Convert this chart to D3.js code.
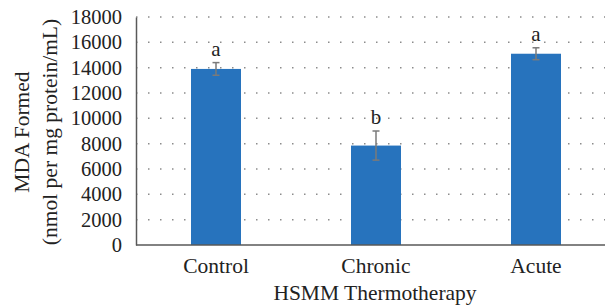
<!DOCTYPE html>
<html>
<head>
<meta charset="utf-8">
<script src="https://cdn.jsdelivr.net/npm/d3@7"></script>
<style>
	body { margin: 0; background: #fff; }
	text { font-family: "Liberation Serif", "DejaVu Serif", serif; fill: #222; }
</style>
</head>
<body>
<svg id="chart" width="605" height="306"></svg>
<script>
// data
var groups = ["Control", "Chronic", "Acute"];
var means = [13900, 7850, 15100];
var errors = [500, 1150, 470];
var letters = ["a", "b", "a"];
var yTicks = [0, 2000, 4000, 6000, 8000, 10000, 12000, 14000, 16000, 18000];

var svg = d3.select("#chart");

var x = d3.scaleBand()
	.domain(groups)
	.range([136, 616])
	.paddingInner(0.6875)
	.paddingOuter(0.34375);

var y = d3.scaleLinear()
	.domain([0, 18000])
	.range([245, 17]);

// dotted gridlines
svg.append("g")
	.selectAll("line")
	.data(yTicks.slice(1))
	.join("line")
	.attr("x1", 136)
	.attr("x2", 605)
	.attr("y1", d => y(d))
	.attr("y2", d => y(d))
	.attr("stroke", "#8c8c8c")
	.attr("stroke-width", 1.5)
	.attr("stroke-dasharray", "1.5,10.5");

// bars
svg.append("g")
	.selectAll("rect")
	.data(groups)
	.join("rect")
	.attr("x", d => x(d))
	.attr("width", x.bandwidth())
	.attr("y", (d, i) => y(means[i]))
	.attr("height", (d, i) => y(0) - y(means[i]))
	.attr("fill", "#2773bd");

// error bars
var eb = svg.append("g")
	.attr("stroke", "#7a7a7a")
	.attr("stroke-width", 1.5);

groups.forEach(function (g, i) {
	var cx = x(g) + x.bandwidth() / 2;
	var top = y(means[i] + errors[i]);
	var bot = y(means[i] - errors[i]);
	eb.append("line").attr("x1", cx).attr("x2", cx).attr("y1", top).attr("y2", bot);
	eb.append("line").attr("x1", cx - 3.5).attr("x2", cx + 3.5).attr("y1", top).attr("y2", top);
	eb.append("line").attr("x1", cx - 3.5).attr("x2", cx + 3.5).attr("y1", bot).attr("y2", bot);
});

// significance letters
svg.append("g")
	.selectAll("text")
	.data(groups)
	.join("text")
	.attr("x", d => x(d) + x.bandwidth() / 2)
	.attr("y", (d, i) => y(means[i] + errors[i]) - 7)
	.attr("text-anchor", "middle")
	.attr("font-size", 21)
	.text((d, i) => letters[i]);

// y axis
var yAxis = svg.append("g")
	.attr("transform", "translate(136,0)")
	.call(d3.axisLeft(y).tickValues(yTicks).tickSize(0).tickPadding(14).tickFormat(d3.format("d")));
yAxis.select(".domain").attr("stroke", "#595959").attr("stroke-width", 1.5);
yAxis.selectAll("text")
	.attr("font-size", 20.5)
	.attr("font-family", "Liberation Serif, serif")
	.attr("fill", "#222");

// x axis
var xAxis = svg.append("g")
	.attr("transform", "translate(0,245)")
	.call(d3.axisBottom(x).tickSize(0).tickPadding(13));
xAxis.select(".domain").remove();
xAxis.selectAll("text")
	.attr("font-size", 21.5)
	.attr("font-family", "Liberation Serif, serif")
	.attr("fill", "#222");
svg.append("line")
	.attr("x1", 136).attr("x2", 605)
	.attr("y1", 245).attr("y2", 245)
	.attr("stroke", "#595959")
	.attr("stroke-width", 1.5);

// axis titles
svg.append("text")
	.attr("x", 375)
	.attr("y", 300)
	.attr("text-anchor", "middle")
	.attr("font-size", 21.5)
	.text("HSMM Thermotherapy");

var yt = svg.append("text")
	.attr("transform", "translate(0,132) rotate(-90)")
	.attr("text-anchor", "middle")
	.attr("font-size", 21.5);
yt.append("tspan").attr("x", 0).attr("y", 29).text("MDA Formed");
yt.append("tspan").attr("x", 0).attr("y", 57).text("(nmol per mg protein/mL)");
</script>
</body>
</html>
